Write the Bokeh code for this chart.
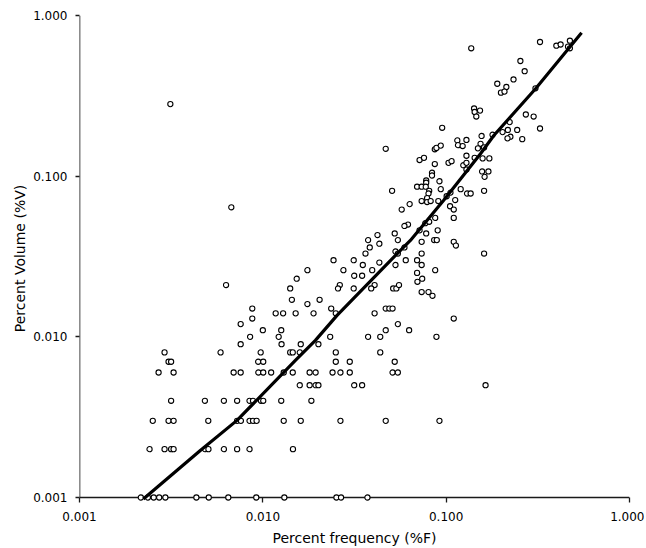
from bokeh.plotting import figure
from bokeh.models import Range1d, FixedTicker, PrintfTickFormatter
from bokeh.embed import file_html
from bokeh.resources import INLINE

# ---- data: percent frequency (%F) vs percent volume (%V) ----
freq_hi = [0.00313, 0.137, 0.325, 0.399, 0.421, 0.473, 0.462, 0.473, 0.254, 0.268,
           0.233, 0.190, 0.213, 0.199, 0.208, 0.307, 0.142, 0.153, 0.143, 0.146,
           0.272, 0.300, 0.325, 0.0951, 0.222, 0.244, 0.260, 0.217, 0.203, 0.224,
           0.216, 0.179, 0.156, 0.115, 0.129, 0.116, 0.123, 0.154, 0.149, 0.161,
           0.0867, 0.0885, 0.0934, 0.0468, 0.0716, 0.0757, 0.103, 0.107, 0.129, 0.143,
           0.158, 0.172, 0.0867, 0.124, 0.129, 0.129, 0.0837, 0.0837, 0.157, 0.170,
           0.162]
vol_hi = [0.281, 0.625, 0.684, 0.649, 0.660, 0.697, 0.640, 0.625, 0.521, 0.450,
          0.400, 0.376, 0.359, 0.331, 0.336, 0.352, 0.264, 0.256, 0.251, 0.235,
          0.242, 0.235, 0.198, 0.200, 0.217, 0.194, 0.170, 0.194, 0.188, 0.176,
          0.172, 0.181, 0.178, 0.167, 0.168, 0.156, 0.154, 0.159, 0.149, 0.151,
          0.147, 0.150, 0.155, 0.148, 0.126, 0.130, 0.121, 0.124, 0.134, 0.130,
          0.129, 0.129, 0.119, 0.117, 0.121, 0.110, 0.105, 0.101, 0.107, 0.107,
          0.099]

freq_mid = [0.0778, 0.0778, 0.0919, 0.0694, 0.0735, 0.0774, 0.0808, 0.0801, 0.0934, 0.0507,
            0.120, 0.130, 0.136, 0.1055, 0.1006, 0.161, 0.0787, 0.0735, 0.0787, 0.0823,
            0.0906, 0.112, 0.0632, 0.0572, 0.105, 0.110, 0.0871, 0.110, 0.0769, 0.0808,
            0.0619, 0.0592, 0.0716, 0.0524, 0.0422, 0.0778, 0.0899, 0.0375, 0.0545, 0.0735,
            0.0860, 0.0889, 0.110, 0.113, 0.161, 0.0735, 0.0529, 0.0545, 0.0592, 0.0383,
            0.0363, 0.0432, 0.0602, 0.0694, 0.0735, 0.0529, 0.0432, 0.0351, 0.0313, 0.0243,
            0.0275, 0.0395, 0.0315, 0.0348, 0.0694, 0.0697, 0.0740, 0.0871, 0.0263, 0.0257,
            0.0313, 0.0407, 0.0390, 0.0514, 0.0535, 0.0553, 0.0735, 0.0801, 0.0842, 0.0236,
            0.0250, 0.0407, 0.0468, 0.0490, 0.0510, 0.0545, 0.0468, 0.0628, 0.0375, 0.0437,
            0.0885, 0.0233, 0.0250, 0.0437, 0.110, 0.0175, 0.0153, 0.0063, 0.0141, 0.0144,
            0.0175, 0.0204, 0.00876, 0.00876, 0.01175, 0.0129, 0.0151, 0.0189, 0.00757, 0.0100,
            0.0126, 0.00852, 0.0122, 0.00673]
vol_mid = [0.094, 0.091, 0.093, 0.086, 0.086, 0.086, 0.081, 0.078, 0.083, 0.081,
           0.083, 0.078, 0.078, 0.079, 0.075, 0.081, 0.073, 0.070, 0.069, 0.070,
           0.070, 0.071, 0.067, 0.062, 0.065, 0.062, 0.055, 0.055, 0.051, 0.052,
           0.050, 0.049, 0.046, 0.044, 0.043, 0.044, 0.046, 0.040, 0.040, 0.039,
           0.040, 0.040, 0.039, 0.037, 0.033, 0.033, 0.034, 0.033, 0.036, 0.036,
           0.033, 0.038, 0.030, 0.030, 0.028, 0.028, 0.029, 0.028, 0.030, 0.030,
           0.026, 0.026, 0.024, 0.024, 0.025, 0.022, 0.023, 0.026, 0.021, 0.020,
           0.020, 0.021, 0.020, 0.020, 0.020, 0.021, 0.019, 0.019, 0.018, 0.015,
           0.014, 0.014, 0.015, 0.015, 0.015, 0.012, 0.011, 0.011, 0.010, 0.010,
           0.010, 0.010, 0.008, 0.008, 0.013, 0.026, 0.023, 0.021, 0.020, 0.017,
           0.016, 0.017, 0.015, 0.013, 0.014, 0.014, 0.014, 0.014, 0.012, 0.011,
           0.011, 0.010, 0.010, 0.064]

freq_low = [0.00757, 0.01265, 0.0161, 0.0201,
            0.00291, 0.00588, 0.00973, 0.0141, 0.01456, 0.0159,
            0.00306, 0.00316, 0.00943, 0.01005, 0.0250, 0.0298, 0.0524,
            0.0027, 0.00326, 0.00693, 0.00757, 0.00945, 0.01005, 0.0111, 0.0130,
            0.01456, 0.0180, 0.0194, 0.0240, 0.0265, 0.0298, 0.0510, 0.0545,
            0.0159, 0.0180, 0.0194, 0.0201, 0.0315, 0.0348, 0.164,
            0.00316, 0.00483, 0.00613, 0.00724, 0.00846, 0.00884, 0.00977, 0.01005, 0.0126, 0.0184,
            0.00251, 0.00306, 0.00326, 0.00504, 0.00724, 0.00759, 0.00846, 0.00884, 0.00925,
            0.0130, 0.0161, 0.0265, 0.0468, 0.0919,
            0.00241, 0.00291, 0.00316, 0.00326, 0.00483, 0.00505, 0.00613, 0.00724, 0.00846, 0.0146,
            0.00216, 0.00236, 0.00254, 0.00272, 0.00294, 0.00434, 0.00507, 0.00648, 0.00921,
            0.0131, 0.0252, 0.0267, 0.0372]
vol_low = [0.009, 0.009, 0.009, 0.009,
           0.008, 0.008, 0.008, 0.008, 0.008, 0.008,
           0.007, 0.007, 0.007, 0.007, 0.007, 0.007, 0.007,
           0.006, 0.006, 0.006, 0.006, 0.006, 0.006, 0.006, 0.006,
           0.006, 0.006, 0.006, 0.006, 0.006, 0.006, 0.006, 0.006,
           0.005, 0.005, 0.005, 0.005, 0.005, 0.005, 0.005,
           0.004, 0.004, 0.004, 0.004, 0.004, 0.004, 0.004, 0.004, 0.004, 0.004,
           0.003, 0.003, 0.003, 0.003, 0.003, 0.003, 0.003, 0.003, 0.003,
           0.003, 0.003, 0.003, 0.003, 0.003,
           0.002, 0.002, 0.002, 0.002, 0.002, 0.002, 0.002, 0.002, 0.002, 0.002,
           0.001, 0.001, 0.001, 0.001, 0.001, 0.001, 0.001, 0.001, 0.001,
           0.001, 0.001, 0.001, 0.001]

# fitted curve
fit_freq = [0.00223, 0.00456, 0.00723, 0.01505, 0.01935, 0.0254, 0.0551,
            0.0638, 0.0967, 0.1539, 0.1819, 0.3072, 0.5478]
fit_vol = [0.00098, 0.00196, 0.00302, 0.00713, 0.0095, 0.0136, 0.0337,
           0.0398, 0.0706, 0.138, 0.179, 0.350, 0.781]

tick_values = [0.001, 0.01, 0.1, 1.0]
x_label = "Percent frequency (%F)"
y_label = "Percent Volume (%V)"

freq = freq_hi + freq_mid + freq_low
vol = vol_hi + vol_mid + vol_low

# ---- figure ----
X_LO, X_HI = 0.001, 1.0
Y_LO, Y_HI = 0.001, 1.0
Y_PAD = 10 ** (-3 - 4 / 161.0)   # frame reaches a few px below the axis so bottom circles are whole

FONT = "DejaVu Sans"

p = figure(width=644, height=548,
           x_axis_type="log", y_axis_type="log",
           x_range=Range1d(X_LO, X_HI), y_range=Range1d(Y_PAD, Y_HI),
           output_backend="svg", toolbar_location=None,
           min_border_left=79, min_border_right=15,
           min_border_top=15, min_border_bottom=46)
p.outline_line_color = None
p.background_fill_color = "white"
p.border_fill_color = "white"
p.xgrid.visible = False
p.ygrid.visible = False

# axis lines drawn at the data edges
p.line([X_LO, X_HI], [Y_LO, Y_LO], line_color="#1a1a1a", line_width=1.6)
p.line([X_LO, X_LO], [Y_LO, Y_HI], line_color="#1a1a1a", line_width=1.6)

p.scatter(freq, vol, marker="circle", size=5.2, fill_color="white",
          line_color="black", line_width=1.1)
p.line(fit_freq, fit_vol, line_color="black", line_width=3.2)

for ax in (p.xaxis[0], p.yaxis[0]):
    ax.ticker = FixedTicker(ticks=tick_values)
    ax.formatter = PrintfTickFormatter(format="%.3f")
    ax.axis_line_color = None
    ax.minor_tick_line_color = None
    ax.major_tick_line_color = "#1a1a1a"
    ax.major_tick_line_width = 1.3
    ax.major_label_text_font = FONT
    ax.major_label_text_font_size = "12px"
    ax.major_label_text_color = "black"
    ax.axis_label_text_font = FONT
    ax.axis_label_text_font_size = "14px"
    ax.axis_label_text_font_style = "normal"
    ax.axis_label_text_color = "black"

xa = p.xaxis[0]
xa.axis_label = x_label
xa.major_tick_in = 4
xa.major_tick_out = 1
xa.major_label_standoff = 9
xa.axis_label_standoff = 6

ya = p.yaxis[0]
ya.axis_label = y_label
ya.major_tick_in = 0
ya.major_tick_out = 4
ya.major_label_standoff = 8
ya.axis_label_standoff = 2

open("out.html", "w").write(file_html(p, INLINE))
